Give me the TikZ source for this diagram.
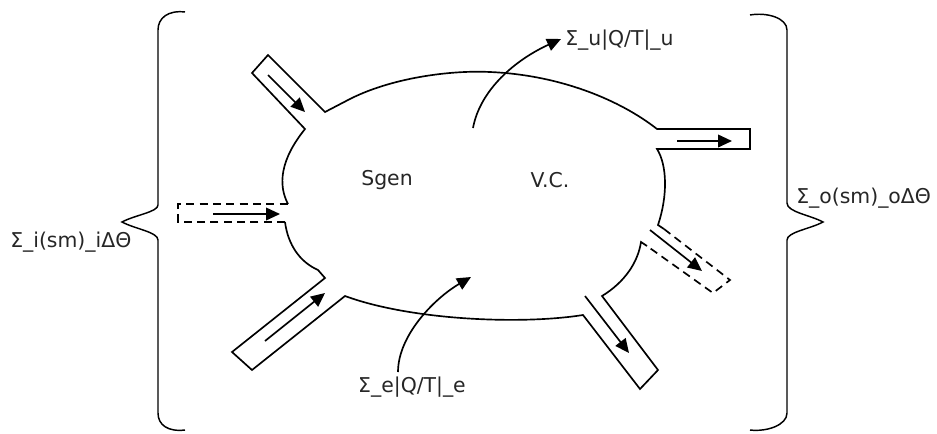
\documentclass[tikz,border=0pt]{standalone}
\usepackage{fontspec}
\setmainfont{DejaVu Sans}
\usetikzlibrary{arrows.meta}
\begin{document}
\begin{tikzpicture}[x=0.75pt,y=-0.75pt,
  wall/.style={line width=1.25pt,line join=miter,black},
  dwall/.style={wall,dash pattern=on 6pt off 4pt},
  flow/.style={line width=1.25pt,-{Triangle[length=10.5pt,width=9.5pt]}},
  lbl/.style={font=\fontsize{15.3}{18}\selectfont,text=black!85,inner sep=0pt}]
\useasboundingbox (0,0) rectangle (937,433);
% control volume outline
\draw[wall] (288,204) .. controls (278,185) and (280,160) .. (305,129)
  -- (252,73) -- (268,55) -- (325,112) -- (348,100)
  .. controls (390,78) and (450,70) .. (490,72)
  .. controls (560,75) and (620,100) .. (657,129)
  -- (750,129) -- (750,149) -- (657,149)
  .. controls (667,165) and (668,195) .. (658,225) -- (664,229);
\draw[dwall] (664,229) -- (730,280) -- (713,293) -- (647,246);
\draw[wall] (647,246) -- (641,242)
  .. controls (638,262) and (625,282) .. (602,296)
  -- (658,370) -- (640,389) -- (583,315)
  .. controls (520,325) and (410,320) .. (345,296)
  -- (252,370) -- (232,352) -- (325,278) -- (318,270)
  .. controls (300,262) and (288,245) .. (285,222);
\draw[dwall] (285,222) -- (178,222) -- (178,204) -- (288,204);
% braces
\draw[wall,line width=1.1pt] (185,12) .. controls (168,10) and (158,18) .. (158,30) -- (158,205)
  .. controls (158,212) and (135,215) .. (122,222)
  .. controls (135,229) and (158,232) .. (158,240) -- (158,413)
  .. controls (158,425) and (168,432) .. (185,430);
\draw[wall,line width=1.1pt] (750,15) .. controls (767,12) and (787,18) .. (787,30) -- (787,203)
  .. controls (787,212) and (810,215) .. (823,222)
  .. controls (810,229) and (787,232) .. (787,240) -- (787,413)
  .. controls (787,425) and (767,432) .. (750,430);
% flow arrows
\coordinate (tls) at (268,75);  \coordinate (tle) at (305,112);
\coordinate (rs)  at (677,141); \coordinate (re)  at (732,141);
\coordinate (rds) at (650,230); \coordinate (rde) at (702,271);
\coordinate (brs) at (585,296); \coordinate (bre) at (629,353);
\coordinate (bls) at (265,341); \coordinate (ble) at (325,293);
\coordinate (lds) at (213,214); \coordinate (lde) at (280,214);
\draw[flow] (tls) -- (tle);
\draw[flow] (rs) -- (re);
\draw[flow] (rds) -- (rde);
\draw[flow] (brs) -- (bre);
\draw[flow] (bls) -- (ble);
\draw[flow] (lds) -- (lde);
% heat arrows
\coordinate (qus) at (473,128); \coordinate (que) at (561,39);
\coordinate (qes) at (398,372); \coordinate (qee) at (471,277);
\draw[flow] (qus) .. controls (480,90) and (515,60) .. (que);
\draw[flow] (qes) .. controls (398,335) and (435,298) .. (qee);
% labels
\node[lbl] (sgen) at (387,180) {Sgen};
\node[lbl] (vc) at (550,180) {V.C.};
\node[lbl,anchor=west] (qu) at (565,40) {Σ\_u|Q/T|\_u};
\node[lbl] (qe) at (412,387) {Σ\_e|Q/T|\_e};
\node[lbl,anchor=west] (si) at (10,242) {Σ\_i(sm)\_iΔΘ};
\node[lbl,anchor=west] (so) at (796,198) {Σ\_o(sm)\_oΔΘ};
\end{tikzpicture}
\end{document}
